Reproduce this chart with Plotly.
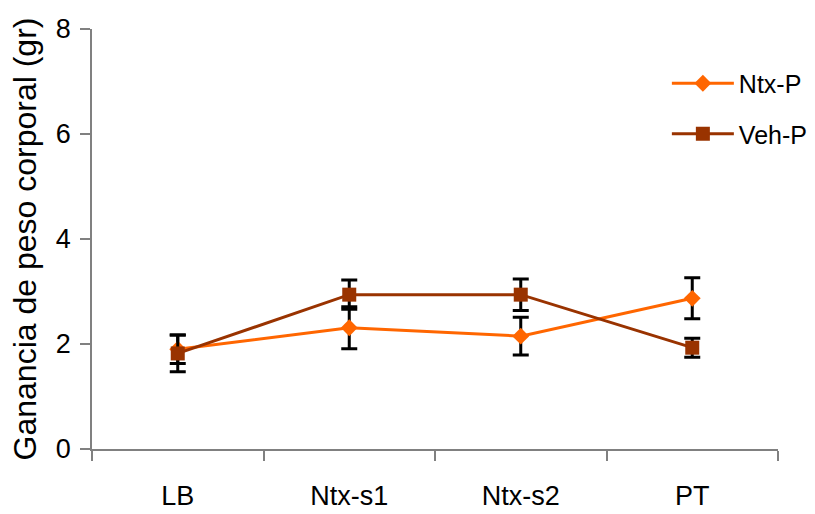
import plotly.graph_objects as go

categories = ["LB", "Ntx-s1", "Ntx-s2", "PT"]
ntx_p = [1.90, 2.31, 2.15, 2.87]
ntx_p_err = [0.27, 0.40, 0.36, 0.39]
veh_p = [1.82, 2.94, 2.94, 1.93]
veh_p_err = [0.35, 0.28, 0.30, 0.18]

FONT = "Liberation Sans, Arial, sans-serif"

fig = go.Figure()
fig.add_trace(go.Scatter(
    x=categories, y=ntx_p, name="Ntx-P", mode="lines+markers",
    line=dict(color="#FF6600", width=3),
    marker=dict(symbol="diamond", size=13, color="#FF6600"),
    error_y=dict(type="data", array=ntx_p_err, color="black", thickness=3, width=8),
    legendgroup="a",
))
fig.add_trace(go.Scatter(
    x=categories, y=veh_p, name="Veh-P", mode="lines+markers",
    line=dict(color="#993300", width=3),
    marker=dict(symbol="square", size=14, color="#993300"),
    error_y=dict(type="data", array=veh_p_err, color="black", thickness=3, width=8),
    legendgroup="b",
))

fig.update_layout(
    width=815, height=514,
    margin=dict(l=92, r=37, t=29, b=65, autoexpand=False),
    paper_bgcolor="white", plot_bgcolor="white",
    font=dict(family=FONT, size=27, color="black"),
    showlegend=True,
    legend=dict(
        x=0.838, y=0.925, xanchor="left", yanchor="top",
        font=dict(size=25), traceorder="grouped", tracegroupgap=15,
        itemwidth=62,
        bgcolor="rgba(0,0,0,0)",
    ),
    xaxis=dict(
        type="category", range=[-0.5, 3.5], tickson="boundaries",
        showline=True, linecolor="#808080", linewidth=1.5,
        ticks="outside", ticklen=10, tickcolor="#808080", tickwidth=1.5,
        showgrid=False, zeroline=False, tickfont=dict(size=27),
        ticklabelstandoff=22, automargin=False,
    ),
    yaxis=dict(
        range=[0, 8], tickvals=[0, 2, 4, 6, 8],
        showline=True, linecolor="#808080", linewidth=1.5,
        ticks="outside", ticklen=10, tickcolor="#808080", tickwidth=1.5,
        showgrid=False, zeroline=False, tickfont=dict(size=27),
        ticklabelstandoff=4, automargin=False,
        title=dict(text="Ganancia de peso corporal (gr)", font=dict(size=32), standoff=10),
    ),
)

fig.write_html("out.html")
